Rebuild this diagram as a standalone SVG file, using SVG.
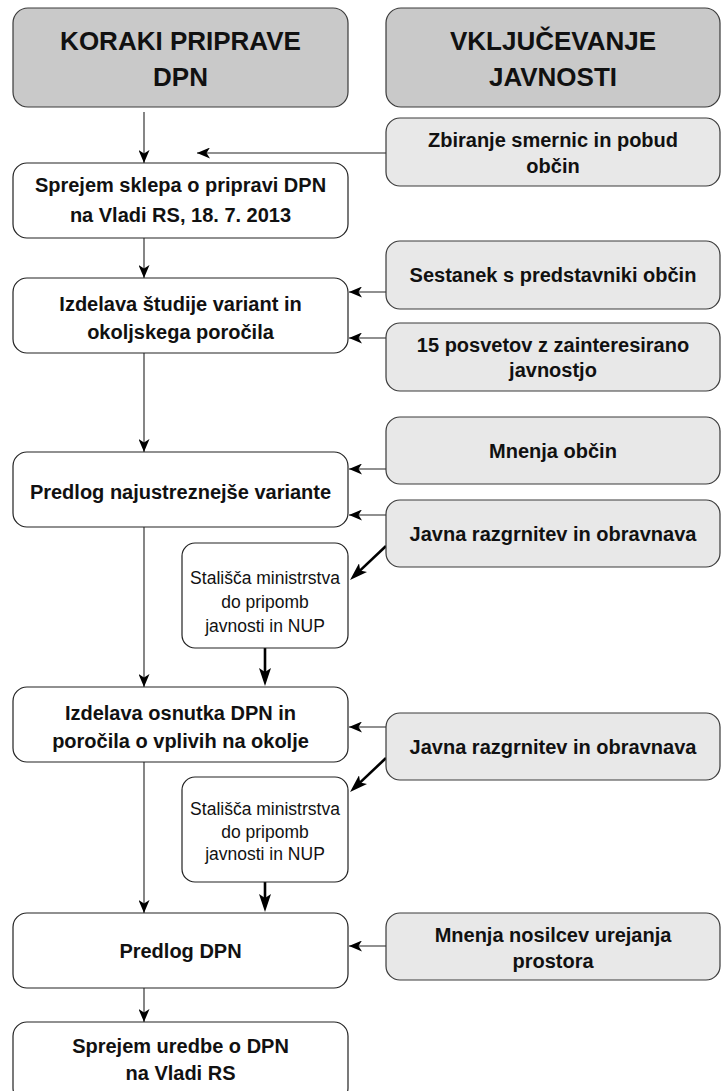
<svg xmlns="http://www.w3.org/2000/svg" width="725" height="1091" viewBox="0 0 725 1091">
<style>
.hdr{fill:#c9c9c9;stroke:#3a3a3a;stroke-width:1.2}
.main{fill:#ffffff;stroke:#222;stroke-width:1.2}
.pub{fill:#e8e8e8;stroke:#3a3a3a;stroke-width:1.2}
.small{fill:#ffffff;stroke:#222;stroke-width:1.2}
text{font-family:"Liberation Sans",Arial,sans-serif;fill:#111;text-anchor:middle}
.th{font-size:26px;font-weight:bold}
.tb{font-size:20px;font-weight:bold}
.ts{font-size:17.5px}
.thin{stroke:#222;stroke-width:1.1;fill:none;marker-end:url(#a)}
.thick{stroke:#000;stroke-width:2.6;fill:none;marker-end:url(#b)}
</style>
<defs>
<marker id="a" markerUnits="userSpaceOnUse" markerWidth="13" markerHeight="11" refX="13" refY="5.5" orient="auto">
<path d="M0,0 L13,5.5 L0,11 L3.5,5.5 z" fill="#000"/>
</marker>
<marker id="b" markerUnits="userSpaceOnUse" markerWidth="18" markerHeight="12" refX="12" refY="6" orient="auto">
<path d="M0,0 L18,6 L0,12 L4,6 z" fill="#000"/>
</marker>
</defs>
<g id="connectors">
<line class="thin" x1="144" y1="112" x2="144" y2="163"/>
<line class="thin" x1="386" y1="153" x2="197" y2="153"/>
<line class="thin" x1="144" y1="238" x2="144" y2="278"/>
<line class="thin" x1="386" y1="292" x2="349" y2="292"/>
<line class="thin" x1="386" y1="338" x2="349" y2="338"/>
<line class="thin" x1="144" y1="353" x2="144" y2="452"/>
<line class="thin" x1="386" y1="469" x2="349" y2="469"/>
<line class="thin" x1="386" y1="515" x2="349" y2="515"/>
<line class="thick" x1="386" y1="546" x2="354.4" y2="575.9"/>
<line class="thick" x1="265" y1="633" x2="265" y2="680"/>
<line class="thin" x1="144" y1="527" x2="144" y2="687"/>
<line class="thin" x1="386" y1="727" x2="349" y2="727"/>
<line class="thick" x1="386" y1="758" x2="354.4" y2="787.9"/>
<line class="thick" x1="265" y1="870" x2="265" y2="906"/>
<line class="thin" x1="144" y1="762" x2="144" y2="913"/>
<line class="thin" x1="386" y1="946" x2="349" y2="946"/>
<line class="thin" x1="144" y1="988" x2="144" y2="1022"/>
</g>
<g id="hdr-left">
<rect class="hdr" x="13" y="8" width="335" height="99" rx="15"/>
<text class="th" x="180.5" y="50">KORAKI PRIPRAVE</text>
<text class="th" x="180.5" y="86">DPN</text>
</g>
<g id="hdr-right">
<rect class="hdr" x="386" y="8" width="334" height="99" rx="15"/>
<text class="th" x="553" y="50">VKLJUČEVANJE</text>
<text class="th" x="553" y="86">JAVNOSTI</text>
</g>
<g id="zbiranje">
<rect class="pub" x="386" y="118" width="334" height="68" rx="14"/>
<text class="tb" x="553" y="147">Zbiranje smernic in pobud</text>
<text class="tb" x="553" y="173">občin</text>
</g>
<g id="sprejem-sklepa">
<rect class="main" x="13" y="163" width="335" height="75" rx="14"/>
<text class="tb" x="180.5" y="192">Sprejem sklepa o pripravi DPN</text>
<text class="tb" x="180.5" y="222">na Vladi RS, 18. 7. 2013</text>
</g>
<g id="sestanek">
<rect class="pub" x="386" y="241" width="334" height="68" rx="14"/>
<text class="tb" x="553" y="282">Sestanek s predstavniki občin</text>
</g>
<g id="izdelava-studije">
<rect class="main" x="13" y="278" width="335" height="75" rx="14"/>
<text class="tb" x="180.5" y="311">Izdelava študije variant in</text>
<text class="tb" x="180.5" y="339">okoljskega poročila</text>
</g>
<g id="posveti">
<rect class="pub" x="386" y="323" width="334" height="68" rx="14"/>
<text class="tb" x="553" y="352">15 posvetov z zainteresirano</text>
<text class="tb" x="553" y="377">javnostjo</text>
</g>
<g id="mnenja-obcin">
<rect class="pub" x="386" y="417" width="334" height="67" rx="14"/>
<text class="tb" x="553" y="458">Mnenja občin</text>
</g>
<g id="predlog-variante">
<rect class="main" x="13" y="452" width="335" height="75" rx="14"/>
<text class="tb" x="180.5" y="499">Predlog najustreznejše variante</text>
</g>
<g id="javna-1">
<rect class="pub" x="386" y="500" width="334" height="67" rx="14"/>
<text class="tb" x="553" y="541">Javna razgrnitev in obravnava</text>
</g>
<g id="stalisca-1">
<rect class="small" x="182" y="543" width="166" height="105" rx="13"/>
<text class="ts" x="265" y="584">Stališča ministrstva</text>
<text class="ts" x="265" y="608">do pripomb</text>
<text class="ts" x="265" y="632">javnosti in NUP</text>
</g>
<g id="izdelava-osnutka">
<rect class="main" x="13" y="687" width="335" height="75" rx="14"/>
<text class="tb" x="180.5" y="720">Izdelava osnutka DPN in</text>
<text class="tb" x="180.5" y="748">poročila o vplivih na okolje</text>
</g>
<g id="javna-2">
<rect class="pub" x="386" y="713" width="334" height="67" rx="14"/>
<text class="tb" x="553" y="754">Javna razgrnitev in obravnava</text>
</g>
<g id="stalisca-2">
<rect class="small" x="182" y="777" width="166" height="105" rx="13"/>
<text class="ts" x="265" y="815">Stališča ministrstva</text>
<text class="ts" x="265" y="838">do pripomb</text>
<text class="ts" x="265" y="860">javnosti in NUP</text>
</g>
<g id="predlog-dpn">
<rect class="main" x="13" y="913" width="335" height="75" rx="14"/>
<text class="tb" x="180.5" y="958">Predlog DPN</text>
</g>
<g id="mnenja-nosilcev">
<rect class="pub" x="386" y="913" width="334" height="67" rx="14"/>
<text class="tb" x="553" y="942">Mnenja nosilcev urejanja</text>
<text class="tb" x="553" y="968">prostora</text>
</g>
<g id="sprejem-uredbe">
<rect class="main" x="13" y="1022" width="335" height="80" rx="14"/>
<text class="tb" x="180.5" y="1053">Sprejem uredbe o DPN</text>
<text class="tb" x="180.5" y="1080">na Vladi RS</text>
</g>
</svg>
